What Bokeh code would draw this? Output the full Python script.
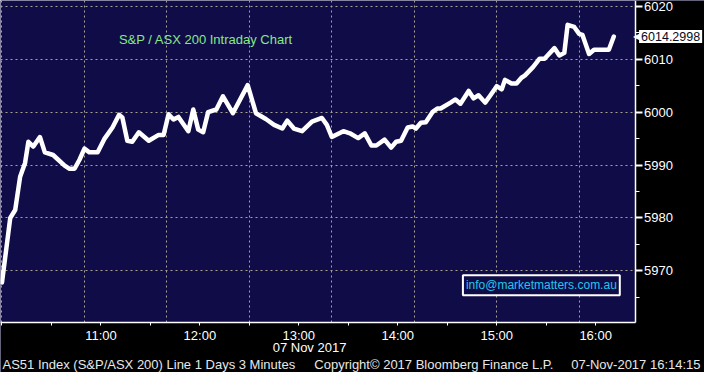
from bokeh.plotting import figure
from bokeh.models import Range1d, FixedTicker, Label, BoxAnnotation, LinearAxis
from bokeh.embed import file_html
from bokeh.resources import INLINE

# ---- data ----
times = ["10:00", "10:05", "10:08", "10:11", "10:14", "10:16", "10:19", "10:23", "10:26", "10:31",
         "10:38", "10:41", "10:44", "10:47", "10:50", "10:53", "10:58", "11:02", "11:07", "11:11",
         "11:13", "11:16", "11:19", "11:23", "11:29", "11:35", "11:38", "11:41", "11:44", "11:47",
         "11:53", "11:56", "11:59", "12:02", "12:05", "12:10", "12:14", "12:20", "12:29", "12:34",
         "12:40", "12:45", "12:50", "12:53", "12:57", "13:02", "13:08", "13:14", "13:17", "13:20",
         "13:27", "13:31", "13:36", "13:40", "13:44", "13:47", "13:52", "13:56", "13:59", "14:02",
         "14:06", "14:09", "14:11", "14:14", "14:17", "14:21", "14:24", "14:26", "14:32", "14:35",
         "14:38", "14:43", "14:46", "14:49", "14:53", "14:56", "15:00", "15:03", "15:05", "15:09",
         "15:12", "15:15", "15:17", "15:22", "15:26", "15:29", "15:35", "15:38", "15:41", "15:43",
         "15:47", "15:50", "15:52", "15:56", "15:59", "16:08", "16:11"]
values = [5967.8, 5980.0, 5981.5, 5987.8, 5990.4, 5994.4, 5993.5, 5995.3, 5992.4, 5991.9,
          5989.9, 5989.3, 5989.3, 5991.0, 5993.1, 5992.4, 5992.4, 5994.9, 5997.1, 5999.5,
          5999.0, 5994.6, 5994.4, 5996.2, 5994.6, 5995.7, 5995.7, 5999.6, 5998.6, 5999.1,
          5996.4, 6000.5, 5996.7, 5996.2, 6000.0, 6000.5, 6003.0, 5999.8, 6005.1, 5999.8,
          5998.7, 5997.6, 5996.9, 5998.4, 5996.9, 5996.4, 5998.2, 5998.9, 5997.6, 5995.3,
          5996.4, 5996.0, 5995.1, 5996.0, 5993.7, 5993.7, 5994.8, 5993.3, 5994.4, 5994.6,
          5997.1, 5997.3, 5996.9, 5998.0, 5998.1, 6000.0, 6000.7, 6000.7, 6001.8, 6002.4,
          6001.6, 6004.0, 6002.6, 6003.2, 6001.8, 6003.1, 6004.9, 6004.3, 6006.1, 6005.4,
          6005.4, 6006.5, 6006.9, 6008.5, 6010.1, 6010.1, 6012.1, 6010.7, 6011.2, 6016.5,
          6016.1, 6014.8, 6014.6, 6011.0, 6011.8, 6011.8, 6014.3]

last_value_text = "6014.2998"
hour_ticks = ["10:00", "11:00", "12:00", "13:00", "14:00", "15:00", "16:00"]
half_hour_ticks = ["10:30", "11:30", "12:30", "13:30", "14:30", "15:30"]
y_major = [5970, 5980, 5990, 6000, 6010, 6020]
y_minor = [5965, 5975, 5985, 5995, 6005, 6015]
title_text = "S&P / ASX 200 Intraday Chart"
date_text = "07 Nov 2017"
footer_left = "AS51 Index (S&P/ASX 200) Line 1 Days 3 Minutes"
footer_mid = "Copyright\u00a9 2017 Bloomberg Finance L.P."
footer_right = "07-Nov-2017 16:14:15"
email_text = "info@marketmatters.com.au"


def to_min(s):
    h, m = s.split(":")
    return (int(h) - 10) * 60 + int(m)


x = [to_min(t) for t in times]

# plot-area extent (data units) and full canvas extent
X0, X1 = -0.9, 383.9
Y0, Y1 = 5960.2, 6021.1
XFULL = 426.0
YFULL = 5950.8

NAVY = "#100c48"
FONT = "Liberation Sans"

p = figure(width=704, height=372, output_backend="svg", toolbar_location=None,
           x_range=Range1d(X0, XFULL), y_range=Range1d(YFULL, Y1),
           x_axis_location=None, y_axis_location=None,
           min_border_left=0, min_border_top=0, min_border_right=0, min_border_bottom=0,
           background_fill_color=NAVY, border_fill_color="black", outline_line_color=None)

# axes fixed at the plot-area edges
xaxis = LinearAxis(fixed_location=Y0, bounds=(X0, X1))
yaxis = LinearAxis(fixed_location=X1, bounds=(Y0, Y1))
p.add_layout(xaxis, "below")
p.add_layout(yaxis, "right")

# grid
for g in (p.xgrid, p.ygrid):
    g.grid_line_color = "#a8a38e"
    g.grid_line_dash = "2 3"
    g.grid_line_width = 1

# black surround outside the plot area (drawn above the grid, below the axes)
p.add_layout(BoxAnnotation(left=X1, fill_color="black", fill_alpha=1, line_color=None, level="glyph"))
p.add_layout(BoxAnnotation(top=Y0, fill_color="black", fill_alpha=1, line_color=None, level="glyph"))

# x axis
xt = [to_min(t) for t in hour_ticks]
xaxis.ticker = FixedTicker(ticks=xt, minor_ticks=[to_min(t) for t in half_hour_ticks])
xaxis.major_label_overrides = {v: ("" if i == 0 else hour_ticks[i]) for i, v in enumerate(xt)}
xaxis.axis_line_color = "white"
xaxis.axis_line_width = 1.5
xaxis.major_tick_line_color = "white"
xaxis.minor_tick_line_color = "white"
xaxis.major_tick_in = 0
xaxis.major_tick_out = 3
xaxis.minor_tick_in = 0
xaxis.minor_tick_out = 3
xaxis.major_label_text_color = "white"
xaxis.major_label_text_font = FONT
xaxis.major_label_text_font_size = "13px"
xaxis.major_label_standoff = 2

# y axis (right)
yaxis.ticker = FixedTicker(ticks=y_major, minor_ticks=y_minor)
yaxis.axis_line_color = "white"
yaxis.axis_line_width = 1.5
yaxis.major_tick_line_color = "white"
yaxis.major_tick_line_width = 2
yaxis.minor_tick_line_color = "white"
yaxis.major_tick_in = 0
yaxis.major_tick_out = 7
yaxis.minor_tick_in = 0
yaxis.minor_tick_out = 4
yaxis.major_label_text_color = "white"
yaxis.major_label_text_font = FONT
yaxis.major_label_text_font_size = "13px"
yaxis.major_label_standoff = 2

# main line
p.line(x, values, line_color="white", line_width=4.5, line_join="round", line_cap="round")

# title inside plot
p.add_layout(Label(x=70.9, y=6013.7, text=title_text, text_color="#86e886",
                   text_font=FONT, text_font_size="13px", text_baseline="middle"))

# last value tag
p.add_layout(Label(x=X1, y=values[-1], x_offset=-2, text="\u25c0", text_color="white",
                   text_font="DejaVu Sans", text_font_size="12px", text_baseline="middle"))
p.add_layout(Label(x=X1, y=values[-1], x_offset=4, text=last_value_text, text_color="#0a0a20",
                   text_font=FONT, text_font_size="12.5px", text_baseline="middle",
                   background_fill_color="white", padding=2))

# email box
p.add_layout(Label(x=279.5, y=5967.3, text=email_text, text_color="#1fc8e8",
                   text_font=FONT, text_font_size="12px", text_baseline="middle",
                   background_fill_color=NAVY, border_line_color="white", border_line_width=2,
                   padding=3))

# date under axis
p.add_layout(Label(x=186.5, y=5955.5, text=date_text, text_color="white", text_align="center",
                   text_font=FONT, text_font_size="13px", text_baseline="middle"))

# footer
for xx, txt, al in ((0.3, footer_left, "left"), (189.4, footer_mid, "left"), (423.6, footer_right, "right")):
    p.add_layout(Label(x=xx, y=5952.4, text=txt, text_color="#e8e8e8", text_align=al,
                       text_font=FONT, text_font_size="13px", text_baseline="middle"))

open("out.html", "w").write(file_html(p, INLINE))
